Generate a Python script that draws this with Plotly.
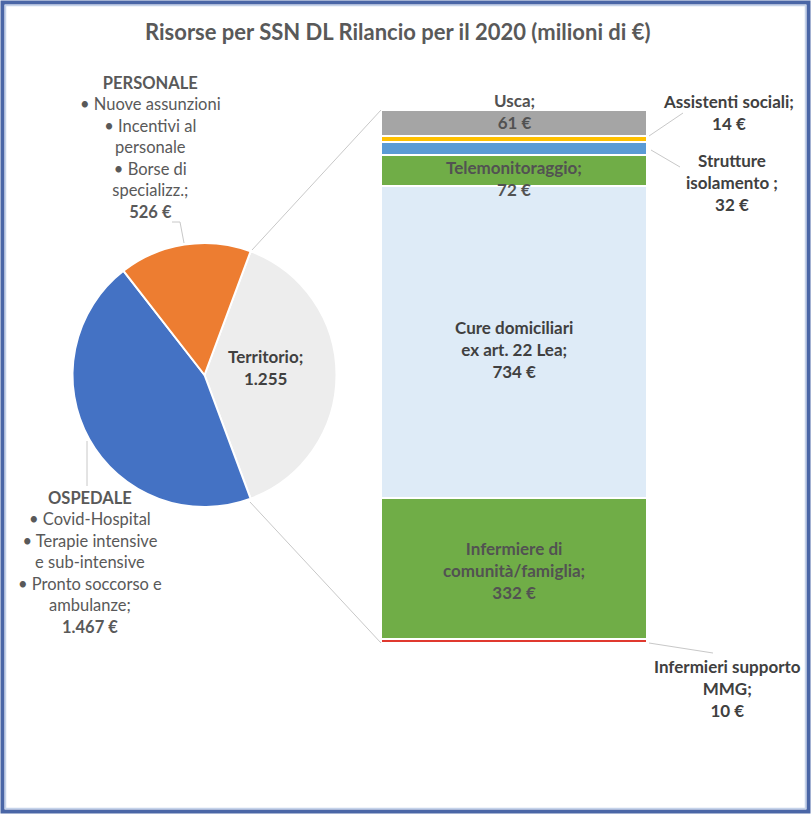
import plotly.graph_objects as go

# ---------------- data ----------------
pie_labels = ["Territorio", "OSPEDALE", "PERSONALE"]
pie_values = [1255, 1467, 526]
pie_colors = ["#ededed", "#4472c4", "#ed7d31"]

# stacked bar (bottom -> top)
bar_labels = ["Infermieri supporto MMG", "Infermiere di comunità/famiglia",
              "Cure domiciliari ex art. 22 Lea", "Telemonitoraggio",
              "Strutture isolamento", "Assistenti sociali", "Usca"]
bar_values = [10, 332, 734, 72, 32, 14, 61]
bar_colors = ["#e0392f", "#70ad47", "#deebf7", "#70ad47", "#5b9bd5", "#ffc000", "#a5a5a5"]

title = "Risorse per SSN DL Rilancio per il 2020 (milioni di €)"

W, H = 811, 814
FONT = "Lato"
TXT = "#595959"


def px(x):
    return x / W


def py(y):
    return 1 - y / H


fig = go.Figure()

# pie
tot = sum(pie_values)
rot = 90 - pie_values[0] / tot * 360 / 2
fig.add_trace(go.Pie(
    labels=pie_labels, values=pie_values, sort=False, direction="clockwise",
    rotation=rot, marker=dict(colors=pie_colors, line=dict(color="white", width=2)),
    textinfo="none", hoverinfo="label+value", showlegend=False,
    domain=dict(x=[px(72), px(337)], y=[py(507), py(243)]),
))

# stacked bar
for lab, val, col in zip(bar_labels, bar_values, bar_colors):
    fig.add_trace(go.Bar(
        x=["Territorio"], y=[val], name=lab, marker=dict(color=col, line=dict(color="white", width=2)),
        showlegend=False, hoverinfo="name+y",
    ))

fig.update_layout(
    barmode="stack", bargap=0,
    width=W, height=H, margin=dict(l=0, r=0, t=0, b=0),
    paper_bgcolor="white", plot_bgcolor="rgba(0,0,0,0)",
    xaxis=dict(domain=[px(381), px(647)], visible=False, range=[-0.5, 0.5]),
    yaxis=dict(domain=[py(643), py(110)], visible=False, range=[0, sum(bar_values)]),
    font=dict(family=FONT, color=TXT),
)

ann = []


def add(x, y, text, size, color=TXT, xref="paper", yref="paper", yshift=0):
    ann.append(dict(x=x, y=y, xref=xref, yref=yref, text=text, showarrow=False,
                    xanchor="center", yanchor="middle", align="center", yshift=yshift,
                    font=dict(size=size, color=color, family=FONT)))


# title
add(px(398), py(32), "<b>" + title + "</b>", 22)


def fmt(v):
    return f"{v:,}".replace(",", ".")


# pie labels
pers = ("<b>" + pie_labels[2] + "</b><br>• Nuove assunzioni<br>• Incentivi al<br>personale<br>"
        "• Borse di<br>specializz.;<br><b>" + fmt(pie_values[2]) + " €</b>")
add(px(150), py(147), pers, 16.5)
osp = ("<b>" + pie_labels[1] + "</b><br>• Covid-Hospital<br>• Terapie intensive<br>e sub-intensive<br>"
       "• Pronto soccorso e<br>ambulanze;<br><b>" + fmt(pie_values[1]) + " €</b>")
add(px(90), py(562), osp, 16.5)
add(px(265), py(368), "<b>" + pie_labels[0] + ";<br>" + fmt(pie_values[0]) + "</b>", 17, "#404040")

# bar labels
cum = []
c = 0
for v in bar_values:
    cum.append((c, c + v))
    c += v


def mid(i):
    return (cum[i][0] + cum[i][1]) / 2


inside = {
    6: ("Usca;<br>" + f"{bar_values[6]} €", 11),
    3: ("Telemonitoraggio;<br>" + f"{bar_values[3]} €", -7.5),
    2: ("Cure domiciliari<br>ex art. 22 Lea;<br>" + f"{bar_values[2]} €", -8),
    1: ("Infermiere di<br>comunità/famiglia;<br>" + f"{bar_values[1]} €", -2),
}
for i, (t, sh) in inside.items():
    add(0, mid(i), "<b>" + t + "</b>", 17, "#525252" if i != 2 else "#404040",
        xref="x", yref="y", yshift=sh)

outside = [
    ("Assistenti sociali;<br>" + f"{bar_values[5]} €", 728, 112),
    ("Strutture<br>isolamento ;<br>" + f"{bar_values[4]} €", 732, 183),
    ("Infermieri supporto<br>MMG;<br>" + f"{bar_values[0]} €", 727, 688),
]
for t, x, y in outside:
    add(px(x), py(y), "<b>" + t + "</b>", 17, "#404040")

fig.update_layout(annotations=ann)

# shapes: connector & leader lines, border
LC = "#c8c8c8"
lines = [
    (252, 250, 381, 110), (250, 502, 381, 643),
    (649, 136, 683, 113), (651, 150, 680, 167), (649, 643, 713, 653),
    (172, 222, 180, 222), (180, 222, 184, 243),
    (87, 441, 87, 486),
]
shapes = []
for x0, y0, x1, y1 in lines:
    shapes.append(dict(type="line", xref="paper", yref="paper", x0=px(x0), y0=py(y0), x1=px(x1), y1=py(y1),
                       line=dict(color=LC, width=1)))
shapes.append(dict(type="rect", xref="paper", yref="paper", x0=px(2.5), y0=py(811.5), x1=px(808.5), y1=py(2.5),
                   line=dict(color="#4a66a6", width=4)))
shapes.append(dict(type="rect", xref="paper", yref="paper", x0=px(5.5), y0=py(808.5), x1=px(805.5), y1=py(5.5),
                   line=dict(color="#c5d3ea", width=1.5)))
fig.update_layout(shapes=shapes)

fig.write_html("out.html", config={"displayModeBar": False},
               post_script="document.body.style.margin='0';document.body.style.overflow='hidden';")
